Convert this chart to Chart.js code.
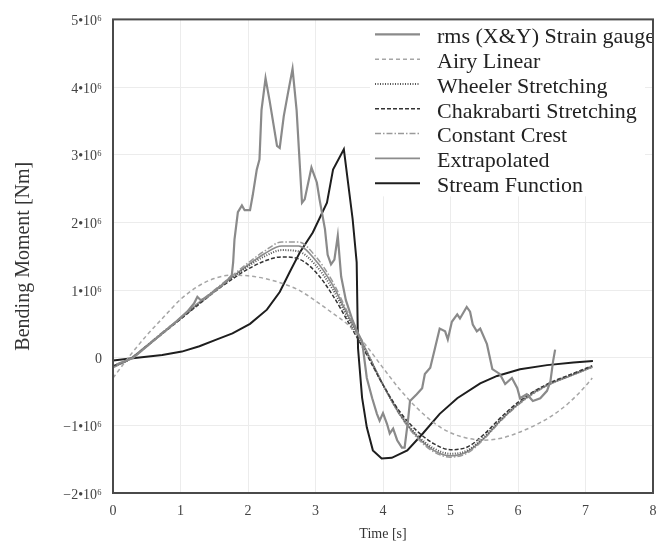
<!DOCTYPE html>
<html>
<head>
<meta charset="utf-8">
<script src="https://cdn.jsdelivr.net/npm/chart.js@4.4.1/dist/chart.umd.min.js"></script>
<style>
  html, body { margin: 0; padding: 0; background: #fff; }
  #wrap { width: 669px; height: 545px; }
</style>
</head>
<body>
<div id="wrap"><canvas id="momentChart" width="669" height="545"></canvas></div>
<script>
// all bending moments in 10^6 Nm, time in s

var modelTime = [0, 0.25, 0.5, 0.75, 1, 1.25, 1.5, 1.75, 2, 2.25, 2.5, 2.75, 3, 3.25, 3.5,
  3.75, 4, 4.25, 4.5, 4.75, 5, 5.25, 5.5, 5.75, 6, 6.25, 6.5, 6.75, 7, 7.1];

var airyLinear = [-0.30, 0.03, 0.33, 0.60, 0.86, 1.05, 1.17, 1.22, 1.21, 1.17, 1.10, 1.00, 0.84, 0.66, 0.47,
  0.18, -0.15, -0.47, -0.74, -0.96, -1.11, -1.19, -1.22, -1.19, -1.11, -1.00, -0.86, -0.67, -0.42, -0.30];
var wheeler = [-0.13, -0.02, 0.17, 0.38, 0.58, 0.78, 0.98, 1.17, 1.35, 1.50, 1.59, 1.57, 1.37, 1.02, 0.55,
  0.09, -0.40, -0.83, -1.14, -1.34, -1.42, -1.37, -1.17, -0.91, -0.68, -0.50, -0.37, -0.27, -0.17, -0.13];
var chakrabarti = [-0.12, -0.02, 0.17, 0.37, 0.57, 0.77, 0.97, 1.15, 1.31, 1.43, 1.49, 1.46, 1.27, 0.93, 0.50,
  0.06, -0.40, -0.80, -1.08, -1.27, -1.36, -1.32, -1.13, -0.88, -0.66, -0.49, -0.36, -0.26, -0.16, -0.12];
var constantCrest = [-0.15, -0.02, 0.18, 0.39, 0.59, 0.80, 1.00, 1.20, 1.40, 1.58, 1.71, 1.71, 1.50, 1.13, 0.62,
  0.12, -0.40, -0.85, -1.18, -1.39, -1.47, -1.41, -1.20, -0.93, -0.70, -0.52, -0.38, -0.28, -0.18, -0.14];
var extrapolated = [-0.14, -0.02, 0.18, 0.38, 0.58, 0.79, 0.99, 1.18, 1.37, 1.54, 1.65, 1.65, 1.44, 1.08, 0.59,
  0.11, -0.40, -0.84, -1.16, -1.37, -1.45, -1.39, -1.19, -0.92, -0.69, -0.51, -0.38, -0.28, -0.18, -0.14];

var streamTime = [0, 0.29, 0.73, 1.02, 1.28, 1.54, 1.77, 2.03, 2.28, 2.47,
  2.62, 2.77, 2.96, 3.17, 3.26, 3.42, 3.55, 3.61, 3.63, 3.69,
  3.76, 3.85, 3.98, 4.13, 4.36, 4.59, 4.84, 5.10, 5.44, 5.69,
  6.03, 6.43, 6.82, 7.11];
var streamFunction = [-0.04, -0.01, 0.04, 0.09, 0.17, 0.27, 0.36, 0.50, 0.71, 0.97,
  1.27, 1.56, 1.85, 2.29, 2.78, 3.08, 2.05, 1.41, 0.14, -0.59,
  -1.03, -1.37, -1.49, -1.48, -1.37, -1.12, -0.83, -0.60, -0.38, -0.27,
  -0.17, -0.11, -0.07, -0.05];

var gaugeTime = [0.05, 0.3, 0.6, 0.9, 1.1, 1.2, 1.25, 1.3, 1.4, 1.5,
  1.6, 1.7, 1.76, 1.78, 1.8, 1.85, 1.91, 1.95, 2.03, 2.07,
  2.13, 2.17, 2.2, 2.26, 2.32, 2.43, 2.47, 2.53, 2.59, 2.66,
  2.72, 2.8, 2.84, 2.94, 3.02, 3.06, 3.14, 3.18, 3.23, 3.28,
  3.33, 3.38, 3.45, 3.55, 3.62, 3.69, 3.76, 3.84, 3.91, 3.95,
  4.0, 4.06, 4.1, 4.15, 4.21, 4.28, 4.32, 4.37, 4.4, 4.5,
  4.58, 4.62, 4.7, 4.77, 4.84, 4.92, 4.96, 5.02, 5.1, 5.14,
  5.24, 5.29, 5.33, 5.39, 5.44, 5.54, 5.62, 5.73, 5.81, 5.91,
  5.99, 6.03, 6.13, 6.22, 6.33, 6.43, 6.48, 6.52, 6.55];
var gaugeRms = [-0.1, 0.0, 0.25, 0.5, 0.68, 0.8, 0.9, 0.85, 0.9, 0.98,
  1.06, 1.15, 1.22, 1.41, 1.75, 2.15, 2.25, 2.18, 2.18, 2.4,
  2.78, 2.93, 3.66, 4.13, 3.8, 3.13, 3.1, 3.57, 3.9, 4.27,
  3.66, 2.29, 2.34, 2.81, 2.59, 2.34, 1.9, 1.52, 1.38, 1.45,
  1.8, 1.2, 0.85, 0.55, 0.38, 0.24, -0.3, -0.6, -0.83, -0.93,
  -0.82, -0.98, -1.12, -1.05, -1.22, -1.33, -1.33, -0.93, -0.64, -0.54,
  -0.45, -0.24, -0.15, 0.14, 0.43, 0.39, 0.27, 0.53, 0.64, 0.58,
  0.75, 0.68, 0.49, 0.39, 0.43, 0.2, -0.17, -0.24, -0.39, -0.3,
  -0.45, -0.6, -0.54, -0.64, -0.6, -0.49, -0.35, -0.05, 0.12];

var yTicks = [-2, -1, 0, 1, 2, 3, 4, 5];
var xTicks = [0, 1, 2, 3, 4, 5, 6, 7, 8];

function toPoints(xs, ys) {
  return xs.map(function (x, i) { return { x: x, y: ys[i] }; });
}

function momentLabel(v) {
  if (v === 0) return '0';
  return (v < 0 ? '\u2212' : '') + Math.abs(v) + '\u202210\u2076';
}

var serif = "'Liberation Serif', 'DejaVu Serif', serif";

// legend drawn inside the plot, top right, white backed
const legendBox = {
  id: 'legendBox',
  beforeDatasetsDraw(chart) {
    const a = chart.chartArea;
    const ctx = chart.ctx;
    ctx.save();
    ctx.fillStyle = '#fff';
    ctx.fillRect(370, a.top, a.right - 8 - 370, 177);
    ctx.restore();
  },
  afterDraw(chart) {
    const a = chart.chartArea;
    const ctx = chart.ctx;
    ctx.save();
    ctx.beginPath();
    ctx.rect(a.left, a.top, a.right - a.left - 1, a.bottom - a.top);
    ctx.clip();
    ctx.font = '22px ' + serif;
    ctx.textBaseline = 'middle';
    chart.data.datasets.forEach(function (ds, i) {
      const y = a.top + 18 + i * 24.8;
      ctx.strokeStyle = ds.borderColor;
      ctx.lineWidth = ds.borderWidth;
      ctx.setLineDash(ds.borderDash || []);
      ctx.beginPath();
      ctx.moveTo(375, y - 3);
      ctx.lineTo(420, y - 3);
      ctx.stroke();
      ctx.setLineDash([]);
      ctx.fillStyle = '#222';
      ctx.fillText(ds.label, 437, y);
    });
    ctx.restore();
  }
};

const frame = {
  id: 'frame',
  afterDraw(chart) {
    const a = chart.chartArea;
    const ctx = chart.ctx;
    ctx.save();
    ctx.strokeStyle = '#4a4a4a';
    ctx.lineWidth = 2;
    ctx.strokeRect(a.left, a.top, a.right - a.left, a.bottom - a.top);
    ctx.restore();
  }
};

const myChart = new Chart(document.getElementById('momentChart'), {
  type: 'line',
  data: {
    datasets: [
      { label: 'rms (X&Y) Strain gauge', data: toPoints(gaugeTime, gaugeRms),
        borderColor: '#8a8a8a', borderWidth: 2.2, tension: 0 },
      { label: 'Airy Linear', data: toPoints(modelTime, airyLinear),
        borderColor: '#a6a6a6', borderWidth: 1.5, borderDash: [4, 3], cubicInterpolationMode: 'monotone' },
      { label: 'Wheeler Stretching', data: toPoints(modelTime, wheeler),
        borderColor: '#555', borderWidth: 2, borderDash: [1, 1.5], cubicInterpolationMode: 'monotone' },
      { label: 'Chakrabarti Stretching', data: toPoints(modelTime, chakrabarti),
        borderColor: '#333', borderWidth: 1.5, borderDash: [4, 2], cubicInterpolationMode: 'monotone' },
      { label: 'Constant Crest', data: toPoints(modelTime, constantCrest),
        borderColor: '#9a9a9a', borderWidth: 1.5, borderDash: [6, 2, 1.5, 2], cubicInterpolationMode: 'monotone' },
      { label: 'Extrapolated', data: toPoints(modelTime, extrapolated),
        borderColor: '#8c8c8c', borderWidth: 1.6, cubicInterpolationMode: 'monotone' },
      { label: 'Stream Function', data: toPoints(streamTime, streamFunction),
        borderColor: '#1e1e1e', borderWidth: 2, tension: 0 }
    ]
  },
  options: {
    responsive: false,
    animation: false,
    elements: { point: { radius: 0 } },
    layout: { padding: { top: 15, right: 16, left: 0, bottom: 0 } },
    plugins: {
      legend: { display: false },
      tooltip: { enabled: false }
    },
    scales: {
      x: {
        type: 'linear',
        min: xTicks[0],
        max: xTicks[xTicks.length - 1],
        afterBuildTicks: function (scale) { scale.ticks = xTicks.map(function (v) { return { value: v }; }); },
        afterFit: function (scale) { scale.height = 52; },
        grid: { color: '#ececec', lineWidth: 1, drawTicks: false },
        border: { display: false },
        ticks: { color: '#444', padding: 10, font: { family: serif, size: 14 } },
        title: { display: true, text: 'Time [s]', color: '#333',
          font: { family: serif, size: 14 }, padding: { top: 0, bottom: 2 } }
      },
      y: {
        min: yTicks[0],
        max: yTicks[yTicks.length - 1],
        afterBuildTicks: function (scale) { scale.ticks = yTicks.map(function (v) { return { value: v }; }); },
        afterFit: function (scale) { scale.width = 113; },
        grid: { color: '#ececec', lineWidth: 1, drawTicks: false },
        border: { display: false },
        ticks: { color: '#444', padding: 11, labelOffset: 2, font: { family: serif, size: 14 },
          callback: function (v) { return momentLabel(v); } },
        title: { display: true, text: 'Bending Moment [Nm]', color: '#333',
          font: { family: serif, size: 20 }, padding: { top: 12, bottom: 0 } }
      }
    }
  },
  plugins: [legendBox, frame]
});
</script>
</body>
</html>
